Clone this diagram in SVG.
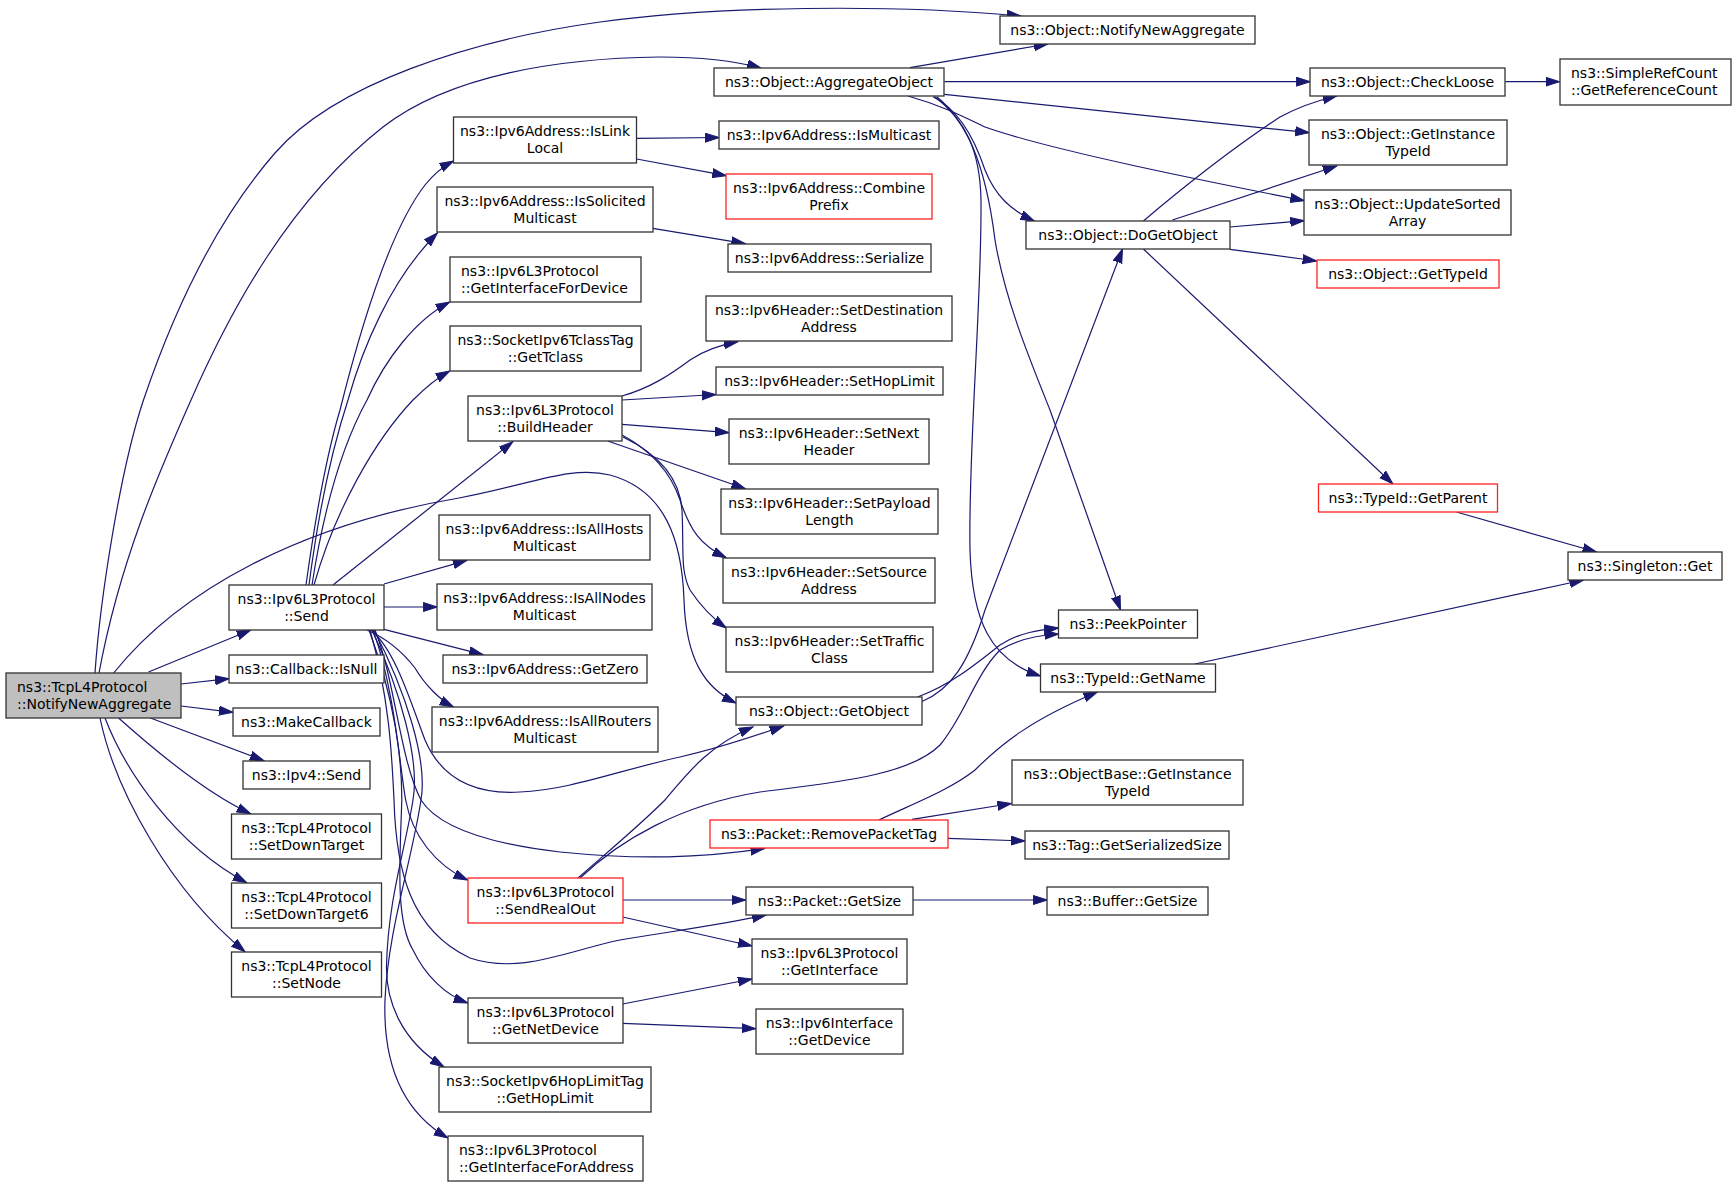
<svg xmlns="http://www.w3.org/2000/svg" width="1736" height="1187" viewBox="0 0 1736 1187">
<style>
.n rect{fill:#fff;stroke:#333;stroke-width:1.3}
.n.r rect{stroke:#f22}
.n.g rect{fill:#bfbfbf}
text{font-family:"DejaVu Sans","Liberation Sans",sans-serif;font-size:14px;fill:#000}
.c{text-anchor:middle}
#edges path{fill:none;stroke:#191970;stroke-width:1.2;marker-end:url(#ah)}
</style>
<defs>
<marker id="ah" markerUnits="userSpaceOnUse" markerWidth="16" markerHeight="12" refX="14" refY="5" orient="auto" viewBox="0 0 16 12">
<path d="M0,0.5 L14,5 L0,9.5 z" fill="#191970" stroke="#191970" stroke-width="1"/>
</marker>
</defs>
<rect width="1736" height="1187" fill="#fff"/>
<g id="edges">
<path d="M95,673 C100,600 120,470 143.5,400 C172,316 215,222 275,153 C335,84 470,40 600,22 C717,6 890,4 1021,16"/>
<path d="M99,673 C120,560 160,470 191,400 C231,309 290,200 383,127 C450,75 560,58 660,57 C700,57 735,61 761,68"/>
<path d="M148.5,672 L250.7,630"/>
<path d="M181,684 L229,678.7"/>
<path d="M181,706 L233,712.3"/>
<path d="M150.4,718 L264,760.7"/>
<path d="M118.6,718 C160,755 210,795 250.7,813.7"/>
<path d="M105,718 C125,770 175,845 246.8,882.7"/>
<path d="M100,718 C115,790 170,890 245,951.7"/>
<path d="M113.7,673 C180,590 300,525 459,498 C530,485 570,465 610,475 C665,490 682,540 684,600 C686,660 705,688 736,703"/>
<path d="M306,585 C315,520 325,460 340,410 C360,330 390,230 425,185 C433,175 442,167 453.5,161"/>
<path d="M309,585 C320,500 335,440 348,400 C362,350 390,280 437.4,233"/>
<path d="M312,585 C325,500 345,440 367,400 C385,360 415,320 449.7,302"/>
<path d="M314,585 C335,510 375,440 413,400 C425,388 437,378 449.7,371"/>
<path d="M333,585 L512.8,441.7"/>
<path d="M384,584 L467,560.3"/>
<path d="M384,607 L437.4,607"/>
<path d="M384,629.3 L483,654.7"/>
<path d="M367,630 C390,640 405,655 415,668 C425,685 440,700 453.5,707"/>
<path d="M371,630 C395,650 410,700 425,740 C440,775 470,795 520,792 C570,790 620,770 680,757 C720,748 755,736 783.7,726"/>
<path d="M375,630 C395,680 400,760 421,800 C440,830 500,845 560,852 C640,860 700,858 764.6,848.5"/>
<path d="M373,630 C395,690 400,770 405.7,800 C412,835 435,865 467.7,880"/>
<path d="M370,630 C390,700 392,760 394,800 C396,870 410,930 470,958 C520,975 570,950 620,940 C680,930 720,925 766,915"/>
<path d="M369,630 C395,700 402,760 401.8,800 C400,860 395,920 413,950 C425,975 445,995 467.7,1003"/>
<path d="M372,630 C400,690 420,760 413,800 C405,850 388,900 386.5,966 C386,1000 400,1040 444,1067"/>
<path d="M374,630 C405,690 428,760 421,800 C412,860 388,930 385,1000 C383,1060 400,1110 447.8,1138"/>
<path d="M636.7,138.3 L719.4,137.5"/>
<path d="M636.7,159 L726.3,175.7"/>
<path d="M652.8,228.3 L745.4,243.7"/>
<path d="M622,396 C650,388 670,375 690,360 C705,350 720,345 737.8,341.7"/>
<path d="M622,400 L716,394.5"/>
<path d="M622,424.3 L729,432.7"/>
<path d="M607.7,441 L745.4,488.7"/>
<path d="M622,435 C650,450 670,470 680,500 C690,530 700,545 726.3,557.7"/>
<path d="M623,437 C660,455 680,480 682,510 C684,550 680,570 690,590 C700,605 712,618 726.3,628"/>
<path d="M910,67.7 L1047.8,44"/>
<path d="M944.4,81.7 L1310.3,81.7"/>
<path d="M944.4,94.3 L1309.2,132.7"/>
<path d="M908,96 C940,105 960,115 985,127 C1050,150 1200,180 1304.3,200.7"/>
<path d="M933,96.7 C960,110 975,140 985,170 C995,195 1010,210 1034.4,221"/>
<path d="M936.8,96.7 C965,120 985,160 995,240 C1005,300 1030,360 1050,410 L1120.5,610"/>
<path d="M934.9,96.7 C965,120 980,150 981,200 C982,300 968,450 970,550 C972,620 990,660 1040.5,676"/>
<path d="M1143.4,221 C1180,190 1230,150 1280,117 C1300,106 1320,100 1336.8,96"/>
<path d="M1172.4,220 L1336.8,166"/>
<path d="M1230,227 L1304.3,220.7"/>
<path d="M1230,249.3 L1316.7,261"/>
<path d="M1143.4,249 L1392.9,484"/>
<path d="M1505.4,81.7 L1559.6,81.7"/>
<path d="M1456.4,512 L1596.6,552"/>
<path d="M1194.8,664 L1583.5,580"/>
<path d="M921.5,701.7 C950,690 968,665 985,610 L1122.5,249"/>
<path d="M917.6,697 C950,685 975,665 1000,645 C1020,632 1040,630 1058.5,628"/>
<path d="M578,878 C610,850 640,825 665,800 C690,770 710,745 753,727"/>
<path d="M580,878 C620,840 680,805 760,792 C840,782 910,775 940,745 C965,715 975,675 1000,650 C1020,638 1040,635 1058.5,634"/>
<path d="M622.6,900 L745.8,900"/>
<path d="M622.6,917 L752,946"/>
<path d="M622.6,1004 L752,979"/>
<path d="M622.6,1023.3 L755.8,1028.7"/>
<path d="M912.7,900 L1047.4,900"/>
<path d="M879,820 C910,805 950,790 975,770 C1000,745 1030,720 1097.5,692"/>
<path d="M912,819.3 L1011.4,803.5"/>
<path d="M947.9,838.3 L1025,841"/>
</g>
<g id="n_root" class="n g"><rect x="6" y="673" width="175" height="45"/><text x="17" y="692">ns3::TcpL4Protocol</text><text x="17" y="709">::NotifyNewAggregate</text></g>
<g id="n_objnotify" class="n"><rect x="1000" y="16" width="255" height="28"/><text class="c" x="1127.5" y="34.5">ns3::Object::NotifyNewAggregate</text></g>
<g id="n_aggregate" class="n"><rect x="714" y="68" width="230" height="28"/><text class="c" x="829" y="86.5">ns3::Object::AggregateObject</text></g>
<g id="n_islinklocal" class="n"><rect x="453.5" y="117" width="183" height="46"/><text class="c" x="545" y="136">ns3::Ipv6Address::IsLink</text><text class="c" x="545" y="153">Local</text></g>
<g id="n_ismulticast" class="n"><rect x="719" y="121" width="220" height="28"/><text class="c" x="829" y="139.5">ns3::Ipv6Address::IsMulticast</text></g>
<g id="n_combine" class="n r"><rect x="726" y="174" width="206" height="45"/><text class="c" x="829" y="193">ns3::Ipv6Address::Combine</text><text class="c" x="829" y="210">Prefix</text></g>
<g id="n_issolicited" class="n"><rect x="437" y="187" width="216" height="45"/><text class="c" x="545" y="206">ns3::Ipv6Address::IsSolicited</text><text class="c" x="545" y="223">Multicast</text></g>
<g id="n_serialize" class="n"><rect x="728" y="244" width="203" height="28"/><text class="c" x="829.5" y="262.5">ns3::Ipv6Address::Serialize</text></g>
<g id="n_getiffordev" class="n"><rect x="450" y="257" width="191" height="45"/><text x="461" y="276">ns3::Ipv6L3Protocol</text><text x="461" y="293">::GetInterfaceForDevice</text></g>
<g id="n_gettclass" class="n"><rect x="450" y="326" width="191" height="45"/><text class="c" x="545.5" y="345">ns3::SocketIpv6TclassTag</text><text class="c" x="545.5" y="362">::GetTclass</text></g>
<g id="n_setdest" class="n"><rect x="706" y="296" width="246" height="45"/><text class="c" x="829" y="315">ns3::Ipv6Header::SetDestination</text><text class="c" x="829" y="332">Address</text></g>
<g id="n_sethoplimit" class="n"><rect x="716" y="367" width="227" height="28"/><text class="c" x="829.5" y="385.5">ns3::Ipv6Header::SetHopLimit</text></g>
<g id="n_buildheader" class="n"><rect x="468" y="396" width="154" height="45"/><text class="c" x="545" y="415">ns3::Ipv6L3Protocol</text><text class="c" x="545" y="432">::BuildHeader</text></g>
<g id="n_setnext" class="n"><rect x="729" y="419" width="200" height="45"/><text class="c" x="829" y="438">ns3::Ipv6Header::SetNext</text><text class="c" x="829" y="455">Header</text></g>
<g id="n_setpayload" class="n"><rect x="721" y="489" width="217" height="45"/><text class="c" x="829.5" y="508">ns3::Ipv6Header::SetPayload</text><text class="c" x="829.5" y="525">Length</text></g>
<g id="n_isallhosts" class="n"><rect x="439" y="515" width="211" height="45"/><text class="c" x="544.5" y="534">ns3::Ipv6Address::IsAllHosts</text><text class="c" x="544.5" y="551">Multicast</text></g>
<g id="n_setsource" class="n"><rect x="723" y="558" width="212" height="45"/><text class="c" x="829" y="577">ns3::Ipv6Header::SetSource</text><text class="c" x="829" y="594">Address</text></g>
<g id="n_send" class="n"><rect x="229" y="585" width="155" height="45"/><text class="c" x="306.5" y="604">ns3::Ipv6L3Protocol</text><text class="c" x="306.5" y="621">::Send</text></g>
<g id="n_isallnodes" class="n"><rect x="437" y="584" width="215" height="46"/><text class="c" x="544.5" y="603">ns3::Ipv6Address::IsAllNodes</text><text class="c" x="544.5" y="620">Multicast</text></g>
<g id="n_settraffic" class="n"><rect x="726" y="627" width="207" height="45"/><text class="c" x="829.5" y="646">ns3::Ipv6Header::SetTraffic</text><text class="c" x="829.5" y="663">Class</text></g>
<g id="n_isnull" class="n"><rect x="229" y="655" width="155" height="28"/><text class="c" x="306.5" y="673.5">ns3::Callback::IsNull</text></g>
<g id="n_getzero" class="n"><rect x="443" y="655" width="204" height="28"/><text class="c" x="545" y="673.5">ns3::Ipv6Address::GetZero</text></g>
<g id="n_getobject" class="n"><rect x="736" y="697" width="186" height="28"/><text class="c" x="829" y="715.5">ns3::Object::GetObject</text></g>
<g id="n_makecallback" class="n"><rect x="233" y="708" width="147" height="28"/><text class="c" x="306.5" y="726.5">ns3::MakeCallback</text></g>
<g id="n_isallrouters" class="n"><rect x="432" y="707" width="226" height="45"/><text class="c" x="545" y="726">ns3::Ipv6Address::IsAllRouters</text><text class="c" x="545" y="743">Multicast</text></g>
<g id="n_ipv4send" class="n"><rect x="243" y="761" width="127" height="28"/><text class="c" x="306.5" y="779.5">ns3::Ipv4::Send</text></g>
<g id="n_setdowntarget" class="n"><rect x="231.5" y="814" width="150" height="45"/><text class="c" x="306.5" y="833">ns3::TcpL4Protocol</text><text class="c" x="306.5" y="850">::SetDownTarget</text></g>
<g id="n_setdowntarget6" class="n"><rect x="231.5" y="883" width="150" height="45"/><text class="c" x="306.5" y="902">ns3::TcpL4Protocol</text><text class="c" x="306.5" y="919">::SetDownTarget6</text></g>
<g id="n_setnode" class="n"><rect x="231.5" y="952" width="150" height="45"/><text class="c" x="306.5" y="971">ns3::TcpL4Protocol</text><text class="c" x="306.5" y="988">::SetNode</text></g>
<g id="n_removepackettag" class="n r"><rect x="710" y="820" width="238" height="28"/><text class="c" x="829" y="838.5">ns3::Packet::RemovePacketTag</text></g>
<g id="n_sendrealout" class="n r"><rect x="468" y="878" width="155" height="45"/><text class="c" x="545.5" y="897">ns3::Ipv6L3Protocol</text><text class="c" x="545.5" y="914">::SendRealOut</text></g>
<g id="n_packetgetsize" class="n"><rect x="746" y="887" width="167" height="28"/><text class="c" x="829.5" y="905.5">ns3::Packet::GetSize</text></g>
<g id="n_getinterface" class="n"><rect x="752" y="939" width="155" height="45"/><text class="c" x="829.5" y="958">ns3::Ipv6L3Protocol</text><text class="c" x="829.5" y="975">::GetInterface</text></g>
<g id="n_getnetdevice" class="n"><rect x="468" y="998" width="155" height="45"/><text class="c" x="545.5" y="1017">ns3::Ipv6L3Protocol</text><text class="c" x="545.5" y="1034">::GetNetDevice</text></g>
<g id="n_ifgetdevice" class="n"><rect x="756" y="1009" width="147" height="45"/><text class="c" x="829.5" y="1028">ns3::Ipv6Interface</text><text class="c" x="829.5" y="1045">::GetDevice</text></g>
<g id="n_gethoplimit" class="n"><rect x="439" y="1067" width="212" height="45"/><text class="c" x="545" y="1086">ns3::SocketIpv6HopLimitTag</text><text class="c" x="545" y="1103">::GetHopLimit</text></g>
<g id="n_getifforaddr" class="n"><rect x="448" y="1136" width="195" height="45"/><text x="459" y="1155">ns3::Ipv6L3Protocol</text><text x="459" y="1172">::GetInterfaceForAddress</text></g>
<g id="n_dogetobject" class="n"><rect x="1026" y="221" width="204" height="28"/><text class="c" x="1128" y="239.5">ns3::Object::DoGetObject</text></g>
<g id="n_checkloose" class="n"><rect x="1310" y="68" width="195" height="28"/><text class="c" x="1407.5" y="86.5">ns3::Object::CheckLoose</text></g>
<g id="n_simplerefcount" class="n"><rect x="1560" y="59" width="171" height="46"/><text x="1571" y="78">ns3::SimpleRefCount</text><text x="1571" y="95">::GetReferenceCount</text></g>
<g id="n_objgetinstance" class="n"><rect x="1309" y="120" width="198" height="45"/><text class="c" x="1408" y="139">ns3::Object::GetInstance</text><text class="c" x="1408" y="156">TypeId</text></g>
<g id="n_updatesorted" class="n"><rect x="1304" y="190" width="207" height="45"/><text class="c" x="1407.5" y="209">ns3::Object::UpdateSorted</text><text class="c" x="1407.5" y="226">Array</text></g>
<g id="n_gettypeid" class="n r"><rect x="1317" y="260" width="182" height="28"/><text class="c" x="1408" y="278.5">ns3::Object::GetTypeId</text></g>
<g id="n_getparent" class="n r"><rect x="1318.5" y="484" width="179" height="28"/><text class="c" x="1408" y="502.5">ns3::TypeId::GetParent</text></g>
<g id="n_singleton" class="n"><rect x="1568" y="552" width="154" height="28"/><text class="c" x="1645" y="570.5">ns3::Singleton::Get</text></g>
<g id="n_peekpointer" class="n"><rect x="1058.5" y="610" width="139" height="28"/><text class="c" x="1128" y="628.5">ns3::PeekPointer</text></g>
<g id="n_getname" class="n"><rect x="1040.5" y="664" width="175" height="28"/><text class="c" x="1128" y="682.5">ns3::TypeId::GetName</text></g>
<g id="n_objbasegetinstance" class="n"><rect x="1012" y="760" width="231" height="45"/><text class="c" x="1127.5" y="779">ns3::ObjectBase::GetInstance</text><text class="c" x="1127.5" y="796">TypeId</text></g>
<g id="n_tagserialized" class="n"><rect x="1025" y="831" width="204" height="28"/><text class="c" x="1127" y="849.5">ns3::Tag::GetSerializedSize</text></g>
<g id="n_buffergetsize" class="n"><rect x="1047" y="887" width="161" height="28"/><text class="c" x="1127.5" y="905.5">ns3::Buffer::GetSize</text></g>
</svg>
